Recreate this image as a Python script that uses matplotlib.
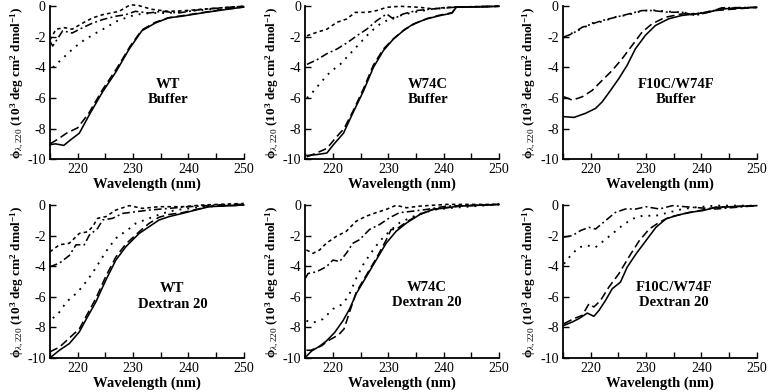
import matplotlib
matplotlib.use("Agg")
import matplotlib.pyplot as plt
from matplotlib.ticker import MultipleLocator, FuncFormatter

plt.rcParams['font.family'] = ['Liberation Serif', 'DejaVu Serif']
plt.rcParams['mathtext.fontset'] = 'custom'
plt.rcParams['mathtext.rm'] = 'Liberation Serif'
plt.rcParams['mathtext.bf'] = 'Liberation Serif:bold'
plt.rcParams['mathtext.it'] = 'Liberation Serif:italic'

# ---------------- data (wavelength nm, ellipticity 10^3 deg cm^2 dmol^-1) -------------
# Panel: WT Buffer
wt_buf_solid_x = [215, 216, 217.5, 218.5, 220.3, 222.1, 224.5, 226.9, 229.3, 231.6, 234, 236.4, 238.8, 242.4, 246, 250]
wt_buf_solid_y = [-9.05, -9.0, -9.1, -8.8, -8.3, -7.1, -5.6, -4.3, -2.8, -1.6, -1.1, -0.76, -0.65, -0.44, -0.25, -0.05]
wt_buf_dash_x = [215, 216.4, 218, 220, 222, 224.5, 227, 229.5, 231.6, 234, 236.4, 238.8, 242.4, 246, 250]
wt_buf_dash_y = [-9.0, -8.7, -8.3, -7.95, -7.0, -5.45, -4.1, -2.6, -1.55, -1.05, -0.75, -0.62, -0.42, -0.22, -0.05]
wt_buf_sdash_x = [215, 216.1, 217.6, 219, 220.9, 222.7, 224.5, 227.5, 229.5, 231, 233.4, 236.4, 238.8, 242.4, 246, 250]
wt_buf_sdash_y = [-2.2, -1.5, -1.4, -1.5, -1.1, -0.76, -0.55, -0.33, 0.1, 0.05, -0.2, -0.33, -0.3, -0.2, -0.1, 0]
wt_buf_dd_x = [215, 215.5, 216.4, 217.3, 219, 220.9, 222.7, 224.5, 226.9, 228.7, 230.4, 232.8, 235.2, 238.2, 242.4, 246, 250]
wt_buf_dd_y = [-2.3, -2.6, -2.1, -1.6, -1.75, -1.4, -1.1, -0.87, -0.65, -0.55, -0.33, -0.44, -0.33, -0.44, -0.2, -0.1, 0.0]
wt_buf_dot_x = [215.5, 217.3, 219.4, 221.2, 223.3, 225.1, 226.9, 228.7, 230.4, 233.4, 236.4, 239.4, 244, 250]
wt_buf_dot_y = [-4.0, -3.4, -2.7, -2.2, -1.75, -1.4, -1.0, -0.76, -0.55, -0.44, -0.44, -0.33, -0.2, 0]

# Panel: W74C Buffer
w74_buf_solid_x = [215.3, 217.1, 218.9, 220.1, 221.9, 223.7, 225.5, 227.3, 229.1, 230.9, 232.7, 234.5, 236.9, 239.3, 241.5, 242.3, 246, 250]
w74_buf_solid_y = [-9.76, -9.7, -9.6, -9.05, -8.3, -6.9, -5.55, -4.0, -2.9, -2.15, -1.6, -1.16, -0.83, -0.61, -0.45, -0.05, -0.05, 0]
w74_buf_dash_x = [215.3, 217, 218.9, 220.5, 222, 223.7, 225.5, 227.3, 229.1, 231, 233, 235, 237, 239.3, 241.5, 242.3, 246, 250]
w74_buf_dash_y = [-9.85, -9.6, -9.3, -8.6, -8.0, -6.8, -5.4, -3.85, -2.8, -2.1, -1.5, -1.1, -0.8, -0.58, -0.42, -0.05, -0.03, 0]
w74_buf_sdash_x = [215.3, 217.1, 218.9, 220.7, 222.5, 224, 226.1, 227.9, 229.7, 232.1, 235.7, 238.1, 240.5, 245, 250]
w74_buf_sdash_y = [-1.93, -1.7, -1.5, -1.05, -0.83, -0.4, -0.4, -0.28, -0.07, 0, -0.07, -0.17, -0.07, -0.03, 0]
w74_buf_dd_x = [215.3, 217.1, 218.9, 220.7, 222.5, 224.3, 226.1, 227.9, 229.7, 230.9, 232.7, 235.1, 238.1, 241.7, 245, 250]
w74_buf_dd_y = [-3.8, -3.5, -3.1, -2.8, -2.4, -1.93, -1.5, -0.94, -0.5, -0.83, -0.5, -0.28, -0.17, -0.07, -0.03, 0]
w74_buf_dot_x = [215.3, 216.5, 218, 219.5, 221.3, 223.1, 224.9, 226.7, 228.5, 230.3, 232.1, 234.5, 238.1, 241.7, 246, 250]
w74_buf_dot_y = [-6.0, -5.55, -4.9, -4.3, -3.8, -3.1, -2.4, -1.7, -1.16, -0.83, -0.61, -0.4, -0.17, -0.07, -0.03, 0]

# Panel: F10C/W74F Buffer
f10_buf_solid_x = [215.2, 217, 219.1, 220.9, 222.1, 223.6, 225.1, 226.6, 228.1, 229.9, 231.7, 234.1, 236.5, 238.9, 241.3, 243.7, 250]
f10_buf_solid_y = [-7.22, -7.27, -7.0, -6.68, -6.25, -5.5, -4.73, -3.86, -2.78, -1.9, -1.26, -0.82, -0.6, -0.5, -0.39, -0.17, -0.07]
f10_buf_dash_x = [215.2, 216.7, 218.5, 220.3, 222.1, 223.9, 225.7, 227.5, 229.3, 231.1, 233.5, 236.5, 238.9, 242.5, 250]
f10_buf_dash_y = [-5.92, -6.14, -5.92, -5.5, -4.84, -4.2, -3.43, -2.56, -1.69, -1.15, -0.72, -0.5, -0.5, -0.28, -0.07]
f10_buf_dd_x = [215.2, 216.7, 218.5, 220.3, 222.1, 224.5, 226.9, 229.3, 231.1, 234.1, 236.5, 238.9, 241.3, 243.7, 250]
f10_buf_dd_y = [-2.0, -1.8, -1.37, -1.15, -0.93, -0.72, -0.5, -0.28, -0.28, -0.39, -0.39, -0.6, -0.39, -0.1, -0.07]
f10_buf_dot_x = [215.2, 216.7, 218.5, 220.3, 222.1, 224.5, 226.9, 229.3, 231.1, 234.1, 236.5, 238.9, 241.3, 243.7, 250]
f10_buf_dot_y = [-2.05, -1.75, -1.45, -1.1, -1.0, -0.7, -0.55, -0.3, -0.25, -0.35, -0.4, -0.5, -0.35, -0.15, -0.07]

# Panel: WT Dextran 20
wt_dex_solid_x = [215, 216.7, 218.5, 220.3, 221.8, 223.3, 225.1, 226.9, 228.7, 231.1, 232.9, 234.7, 236.5, 238.9, 241.3, 243.7, 250]
wt_dex_solid_y = [-10, -9.5, -9.06, -8.3, -7.3, -6.33, -4.9, -3.6, -2.73, -1.86, -1.42, -0.98, -0.76, -0.55, -0.33, -0.11, 0]
wt_dex_dash_x = [215, 216.7, 218.5, 220.3, 221.8, 223.3, 225.1, 226.9, 228.7, 231.1, 232.9, 234.7, 236.5, 238.9, 241.3, 243.7, 250]
wt_dex_dash_y = [-9.6, -9.3, -8.7, -8.1, -7.1, -6.1, -4.65, -3.4, -2.55, -1.75, -1.2, -0.8, -0.62, -0.5, -0.3, -0.1, 0]
wt_dex_sdash_x = [215, 216.7, 218.5, 220.3, 221.8, 222.7, 223.6, 225.1, 226.9, 229.3, 231.7, 234.7, 238.9, 242.5, 246, 250]
wt_dex_sdash_y = [-3.06, -2.6, -2.5, -1.86, -1.75, -1.42, -0.87, -0.76, -0.33, -0.04, -0.22, -0.11, -0.11, 0, 0.05, 0.1]
wt_dex_dd_x = [215, 216.7, 218.5, 219.7, 221.2, 222.1, 223.6, 224.5, 226.3, 228.1, 230.5, 232.9, 236.5, 240.1, 245, 250]
wt_dex_dd_y = [-4.04, -3.8, -3.3, -2.6, -2.6, -1.97, -1.53, -0.98, -0.87, -0.55, -0.44, -0.33, -0.22, -0.11, 0, 0.05]
wt_dex_dot_x = [215.5, 216.5, 218, 220, 221.8, 223, 224.5, 225.7, 227.2, 229, 230.5, 232.9, 235.3, 237.7, 241.3, 245, 250]
wt_dex_dot_y = [-7.4, -7.1, -6.33, -5.7, -4.9, -4.26, -3.4, -2.73, -2.07, -1.64, -1.2, -0.87, -0.55, -0.33, -0.17, -0.05, 0]

# Panel: W74C Dextran 20
w74_dex_solid_x = [215.2, 216.1, 217.6, 218.8, 220.3, 221.8, 223, 224.2, 226, 227.8, 229.6, 231.4, 233.3, 235.7, 238.1, 240.5, 242.9, 250]
w74_dex_solid_y = [-9.9, -9.56, -9.23, -8.9, -8.34, -7.57, -6.8, -5.8, -4.7, -3.6, -2.5, -1.72, -1.17, -0.62, -0.29, -0.18, -0.07, 0.04]
w74_dex_dash_x = [215.2, 216, 217, 218, 219, 220, 221, 222, 223, 224.2, 226, 227.8, 229.6, 230.5, 231.4, 233.3, 235.7, 238.1, 240.5, 242.9, 250]
w74_dex_dash_y = [-9.5, -9.5, -9.35, -9.2, -8.9, -8.7, -8.5, -8.1, -7.0, -5.7, -4.6, -3.5, -2.3, -1.6, -1.6, -1.1, -0.6, -0.28, -0.17, -0.07, 0.04]
w74_dex_sdash_x = [215.2, 216.4, 217.6, 218.8, 220.6, 222.4, 224.2, 226, 227.8, 229.6, 231.4, 233.3, 235.7, 240.5, 250]
w74_dex_sdash_y = [-2.94, -3.16, -2.94, -2.5, -2.05, -1.72, -1.06, -0.73, -0.5, -0.29, -0.02, -0.18, -0.07, 0.04, 0.04]
w74_dex_dd_x = [215.0, 215.5, 217, 218.8, 220, 221.2, 222.4, 223.6, 224.8, 226.6, 228.4, 230.2, 232, 234.5, 236.9, 240.5, 250]
w74_dex_dd_y = [-4.8, -4.48, -4.37, -4.04, -3.6, -3.7, -3.16, -2.5, -2.27, -1.6, -1.28, -0.84, -0.5, -0.4, -0.29, -0.07, 0.04]
w74_dex_dot_x = [215.2, 216.4, 218.2, 220, 221.8, 223, 224.2, 225.4, 226.6, 228.4, 230.2, 232, 233.9, 236.3, 238.7, 241.7, 250]
w74_dex_dot_y = [-7.57, -7.7, -7.46, -6.8, -6.47, -5.8, -4.8, -3.93, -3.27, -2.38, -1.72, -1.17, -0.84, -0.5, -0.29, -0.18, 0.04]

# Panel: F10C/W74F Dextran 20
f10_dex_solid_x = [215.2, 216.7, 217.9, 219.4, 220.6, 221.5, 222.7, 223.9, 225.4, 226.6, 228.2, 230, 231.8, 233.6, 235.4, 237.8, 240.2, 242.6, 250]
f10_dex_solid_y = [-7.87, -7.65, -7.43, -7.07, -7.28, -6.9, -6.24, -5.48, -5.04, -4.07, -3.2, -2.33, -1.46, -0.91, -0.7, -0.48, -0.37, -0.15, -0.04]
f10_dex_dash_x = [215.2, 217, 218.5, 219.7, 220.6, 221.8, 223.3, 225.1, 226.9, 228.8, 230.6, 232.4, 234.2, 236.6, 239.6, 242.6, 250]
f10_dex_dash_y = [-7.76, -7.43, -7.22, -6.46, -6.67, -6.24, -5.37, -4.5, -3.41, -2.33, -1.57, -1.13, -0.8, -0.59, -0.37, -0.15, -0.04]
f10_dex_dd_x = [215.2, 216.7, 218.2, 219.7, 220.9, 222.7, 224.5, 226.3, 228.2, 230, 232.4, 234.8, 238.4, 242.6, 250]
f10_dex_dd_y = [-2.1, -2.0, -1.67, -1.46, -1.57, -1.02, -0.48, -0.26, -0.26, -0.11, -0.26, -0.04, -0.15, -0.26, -0.04]
f10_dex_dot_x = [215.2, 216.4, 217.9, 219.4, 220.9, 222.4, 223.9, 225.7, 227.5, 229.4, 231.8, 234.2, 236.6, 239, 242.6, 250]
f10_dex_dot_y = [-3.85, -3.3, -2.76, -2.65, -2.76, -2.33, -1.89, -1.35, -0.91, -0.7, -0.7, -0.48, -0.26, -0.15, -0.04, -0.04]

panel_protein = ["WT", "W74C", "F10C/W74F", "WT", "W74C", "F10C/W74F"]
panel_condition = ["Buffer", "Buffer", "Buffer", "Dextran 20", "Dextran 20", "Dextran 20"]
x_ticks = [220, 230, 240, 250]
y_ticks = [0, -2, -4, -6, -8, -10]

# ---------------- styles ----------------
STY = {
    "solid": dict(linestyle="-", lw=1.15),
    "dash": dict(linestyle=(0, (5.2, 2.6)), lw=1.15),
    "sdash": dict(linestyle=(0, (2.2, 2.0)), lw=1.15),
    "dd": dict(linestyle=(0, (4.8, 2.0, 1.2, 2.0)), lw=1.15),
    "dot": dict(linestyle=(0, (1.0, 3.2)), lw=1.35),
}

panels = [
    [("dot", wt_buf_dot_x, wt_buf_dot_y), ("dd", wt_buf_dd_x, wt_buf_dd_y), ("sdash", wt_buf_sdash_x, wt_buf_sdash_y),
     ("dash", wt_buf_dash_x, wt_buf_dash_y), ("solid", wt_buf_solid_x, wt_buf_solid_y)],
    [("dot", w74_buf_dot_x, w74_buf_dot_y), ("dd", w74_buf_dd_x, w74_buf_dd_y), ("sdash", w74_buf_sdash_x, w74_buf_sdash_y),
     ("dash", w74_buf_dash_x, w74_buf_dash_y), ("solid", w74_buf_solid_x, w74_buf_solid_y)],
    [("dot", f10_buf_dot_x, f10_buf_dot_y), ("dd", f10_buf_dd_x, f10_buf_dd_y),
     ("dash", f10_buf_dash_x, f10_buf_dash_y), ("solid", f10_buf_solid_x, f10_buf_solid_y)],
    [("dot", wt_dex_dot_x, wt_dex_dot_y), ("dd", wt_dex_dd_x, wt_dex_dd_y), ("sdash", wt_dex_sdash_x, wt_dex_sdash_y),
     ("dash", wt_dex_dash_x, wt_dex_dash_y), ("solid", wt_dex_solid_x, wt_dex_solid_y)],
    [("dot", w74_dex_dot_x, w74_dex_dot_y), ("dd", w74_dex_dd_x, w74_dex_dd_y), ("sdash", w74_dex_sdash_x, w74_dex_sdash_y),
     ("dash", w74_dex_dash_x, w74_dex_dash_y), ("solid", w74_dex_solid_x, w74_dex_solid_y)],
    [("dot", f10_dex_dot_x, f10_dex_dot_y), ("dd", f10_dex_dd_x, f10_dex_dd_y),
     ("dash", f10_dex_dash_x, f10_dex_dash_y), ("solid", f10_dex_solid_x, f10_dex_solid_y)],
]

label_pos = [(236.4, -5.6), (237.2, -5.6), (235.4, -5.6), (237.1, -6.0), (236.9, -5.9), (235.1, -5.9)]

fig = plt.figure(figsize=(7.69, 3.92), dpi=100)
lefts = [0.065, 0.397, 0.732]
bottoms = [0.594, 0.087]
W, H = 0.252, 0.39

ylabel = r"$\mathbf{\phi}_{\lambda,220}$ $\mathbf{(10^3\ deg\ cm^2\ dmol^{-1})}$"

for i, curves in enumerate(panels):
    r, c = divmod(i, 3)
    ax = fig.add_axes([lefts[c], bottoms[r], W, H])
    for style, xs, ys in curves:
        ax.plot(xs, ys, color="black", clip_on=False, **STY[style])
    ax.set_xlim(215, 250)
    ax.set_ylim(-10, 0)
    ax.set_xticks(x_ticks)
    ax.xaxis.set_minor_locator(MultipleLocator(5))
    ax.set_yticks(y_ticks)
    ax.yaxis.set_major_formatter(FuncFormatter(lambda v, p: "%d" % v if v >= 0 else "-%d" % abs(v)))
    for s in ("top", "right"):
        ax.spines[s].set_visible(False)
    for s in ("left", "bottom"):
        ax.spines[s].set_linewidth(1.3)
    ax.tick_params(axis="both", which="both", direction="in", width=1.0, labelsize=10)
    ax.tick_params(axis="both", which="major", length=4)
    ax.tick_params(axis="x", which="minor", length=4)
    ax.tick_params(axis="x", pad=3)
    ax.tick_params(axis="y", pad=3)
    ax.set_xlabel("Wavelength (nm)", fontsize=10.5, fontweight="bold", labelpad=1)
    ax.set_ylabel(ylabel, fontsize=9.5, labelpad=2)
    lx, ly = label_pos[i]
    ax.text(lx, ly, panel_protein[i] + "\n" + panel_condition[i], ha="center", va="center",
            fontsize=10.5, fontweight="bold", linespacing=1.25)

fig.savefig("out.png", dpi=100)
